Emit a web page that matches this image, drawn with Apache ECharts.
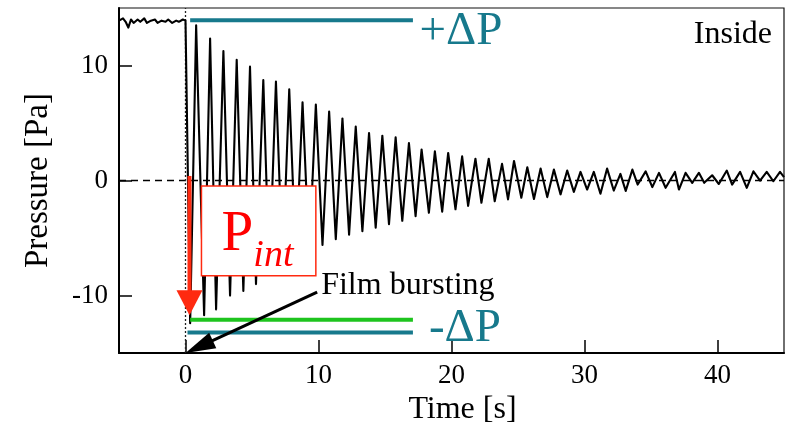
<!DOCTYPE html>
<html>
<head>
<meta charset="utf-8">
<script src="https://cdn.jsdelivr.net/npm/echarts@6/dist/echarts.min.js"></script>
<style>html,body{margin:0;padding:0;background:#fff;}#c{width:787px;height:431px;}</style>
</head>
<body>
<div id="c"></div>
<script>
// ---- data ----
const preTime = [-5.0,-4.7,-4.5,-4.3,-4.1,-3.9,-3.6,-3.4,-3.1,-2.9,-2.6,-2.3,-2.1,-1.8,-1.5,-1.3,-1.0,-0.7,-0.5,-0.2,0.0];
const prePressure = [13.9,14.1,13.8,13.3,14.0,13.7,14.0,13.8,14.1,13.7,13.9,14.0,13.7,13.9,13.8,14.0,13.7,13.9,13.8,14.0,13.9];
const burstTime = [0.35,0.8,1.4,1.85,2.3,2.85,3.35,3.85,4.35,4.85,5.3,5.85,6.3,6.8,7.3,7.8,8.3,8.8,9.3,9.8,
  10.3,10.8,11.3,11.8,12.3,12.8,13.3,13.8,14.3,14.8,15.3,15.8,16.3,16.8,17.3,17.75,18.3,18.75,19.3,19.75,
  20.3,20.8,21.25,21.8,22.25,22.8,23.25,23.8,24.25,24.7,25.25,25.7,26.2,26.7,27.2,27.7,28.2,28.7,29.2,29.7,
  30.2,30.7,31.2,31.7,32.2,32.7,33.1,33.6,34.0,34.6,35.1,35.6,36.1,36.8,37.1,37.6,38.1,38.6,39.0,39.6,
  40.1,40.7,41.1,41.7,42.2,42.7,43.2,43.7,44.2,44.7,45.0];
const burstPressure = [-12.4,13.5,-11.7,12.35,-11.2,11.26,-10.0,10.5,-9.6,9.9,-9.0,8.74,-8.2,8.6,-7.6,7.94,-7.0,6.8,-6.5,6.6,
  -5.6,6.0,-5.1,5.4,-4.7,4.7,-4.4,4.13,-4.1,3.9,-3.8,3.75,-3.5,3.26,-3.1,2.7,-2.8,2.54,-2.7,2.4,
  -2.5,2.1,-2.2,1.9,-1.93,1.9,-1.8,1.45,-1.64,1.7,-1.5,1.15,-1.6,1.04,-1.44,0.95,-1.2,0.87,-0.98,0.75,
  -0.78,0.75,-1.15,1.04,-0.87,0.58,-0.9,0.95,-0.35,0.8,-0.57,0.67,-0.63,0.75,-0.78,0.67,-0.2,0.67,-0.2,0.46,
  -0.3,0.87,-0.35,0.75,-0.63,0.8,0.0,0.75,-0.06,0.75,0.3];
const xTicks = [0, 10, 20, 30, 40];
const yTicks = [-10, 0, 10];
const plusDP = 13.94, greenLevel = -12.1, minusDP = -13.2;

const FONT = "'Liberation Serif','Times New Roman','DejaVu Serif',serif";
const TEAL = '#17798c', GREEN = '#1ec41e', RED = '#ff2a10';

const signal = preTime.map((t, i) => [t, prePressure[i]])
  .concat(burstTime.map((t, i) => [t, burstPressure[i]]));

const chart = echarts.init(document.getElementById('c'), null, {renderer: 'canvas'});
chart.setOption({
  animation: false,
  backgroundColor: '#fff',
  grid: {left: 119, right: 3, top: 8, bottom: 74, show: true, borderColor: '#111', borderWidth: 1.2, backgroundColor: 'transparent'},
  xAxis: {
    type: 'value', min: -5, max: 45,
    name: 'Time [s]', nameLocation: 'middle', nameGap: 38,
    nameTextStyle: {fontFamily: FONT, fontSize: 32, color: '#000', padding: [0, 0, 0, 22]},
    axisLine: {show: true, onZero: false, lineStyle: {color: '#000', width: 2}},
    axisTick: {show: true, inside: true, length: 13, customValues: xTicks, lineStyle: {color: '#000', width: 1.5}},
    axisLabel: {customValues: xTicks, fontFamily: FONT, fontSize: 27, color: '#000', margin: 9},
    splitLine: {show: false}
  },
  yAxis: {
    type: 'value', min: -15, max: 15,
    name: 'Pressure [Pa]', nameLocation: 'middle', nameGap: 64,
    nameTextStyle: {fontFamily: FONT, fontSize: 33, color: '#000'},
    axisLine: {show: true, onZero: false, lineStyle: {color: '#000', width: 2}},
    axisTick: {show: true, inside: true, length: 13, customValues: yTicks, lineStyle: {color: '#000', width: 1.5}},
    axisLabel: {customValues: yTicks, fontFamily: FONT, fontSize: 27, color: '#000', margin: 11},
    splitLine: {show: false}
  },
  series: [{
    type: 'line', data: signal, showSymbol: false, symbol: 'none',
    lineStyle: {color: '#000', width: 2.1, join: 'round'}, z: 3,
    markLine: {
      silent: true, symbol: 'none', label: {show: false}, z: 2,
      data: [
        [{coord: [-5, 0], lineStyle: {type: [7, 5], color: '#000', width: 1.4}}, {coord: [45, 0]}],
        [{coord: [0, -15], lineStyle: {type: [2, 2], color: '#222', width: 1.3}}, {coord: [0, 15]}]
      ]
    }
  }]
});

function px(t, v) { return chart.convertToPixel({gridIndex: 0}, [t, v]); }

function build() {
  const g = [];
  const Z = 100;
  function hline(v, t0, t1, color) {
    const a = px(t0, v), b = px(t1, v);
    g.push({type: 'line', z: Z, shape: {x1: a[0], y1: a[1], x2: b[0], y2: b[1]}, style: {stroke: color, lineWidth: 4}});
  }
  function text(t, v, str, size, color, align, extra) {
    const p = px(t, v);
    g.push({type: 'text', z: Z + 2, x: p[0], y: p[1], style: Object.assign({text: str, fontFamily: FONT, fontSize: size, fill: color, align: align, verticalAlign: 'middle'}, extra || {})});
  }
  function arrow(from, to, color, lw, headLen, headW) {
    const a = px(from[0], from[1]), b = px(to[0], to[1]);
    const dx = b[0] - a[0], dy = b[1] - a[1], L = Math.hypot(dx, dy);
    const ux = dx / L, uy = dy / L, nx = -uy, ny = ux;
    const bx = b[0] - ux * headLen, by = b[1] - uy * headLen;
    g.push({type: 'line', z: Z + 1, shape: {x1: a[0], y1: a[1], x2: bx + ux * 2, y2: by + uy * 2}, style: {stroke: color, lineWidth: lw}});
    g.push({type: 'polygon', z: Z + 1, shape: {points: [[b[0], b[1]], [bx + nx * headW / 2, by + ny * headW / 2], [bx - nx * headW / 2, by - ny * headW / 2]]}, style: {fill: color}});
  }
  // reference levels
  hline(plusDP, 0.35, 17.1, TEAL);
  hline(greenLevel, 0.35, 17.1, GREEN);
  hline(minusDP, 0.15, 17.1, TEAL);
  // P_int box
  const b0 = px(1.2, -0.48), b1 = px(9.8, -8.28);
  g.push({type: 'rect', z: Z, shape: {x: b0[0], y: b0[1], width: b1[0] - b0[0], height: b1[1] - b0[1]}, style: {fill: '#fff', stroke: RED, lineWidth: 1.5}});
  text(2.7, -4.72, 'P', 57, '#ff0000', 'left');
  text(5.1, -6.52, 'int', 38, '#ff0000', 'left', {fontStyle: 'italic'});
  // arrows
  arrow([0.3, 0.4], [0.3, -11.7], RED, 4, 25, 26);
  arrow([9.9, -9.7], [0.0, -15], '#000', 3, 30, 17);
  // texts
  text(17.6, 12.92, '+ΔP', 47, TEAL, 'left');
  text(18.3, -12.88, '-ΔP', 47, TEAL, 'left');
  text(10.2, -9.09, 'Film bursting', 32, '#000', 'left');
  text(44.1, 12.7, 'Inside', 32, '#000', 'right');
  chart.setOption({graphic: {elements: g}});
}
build();
</script>
</body>
</html>
